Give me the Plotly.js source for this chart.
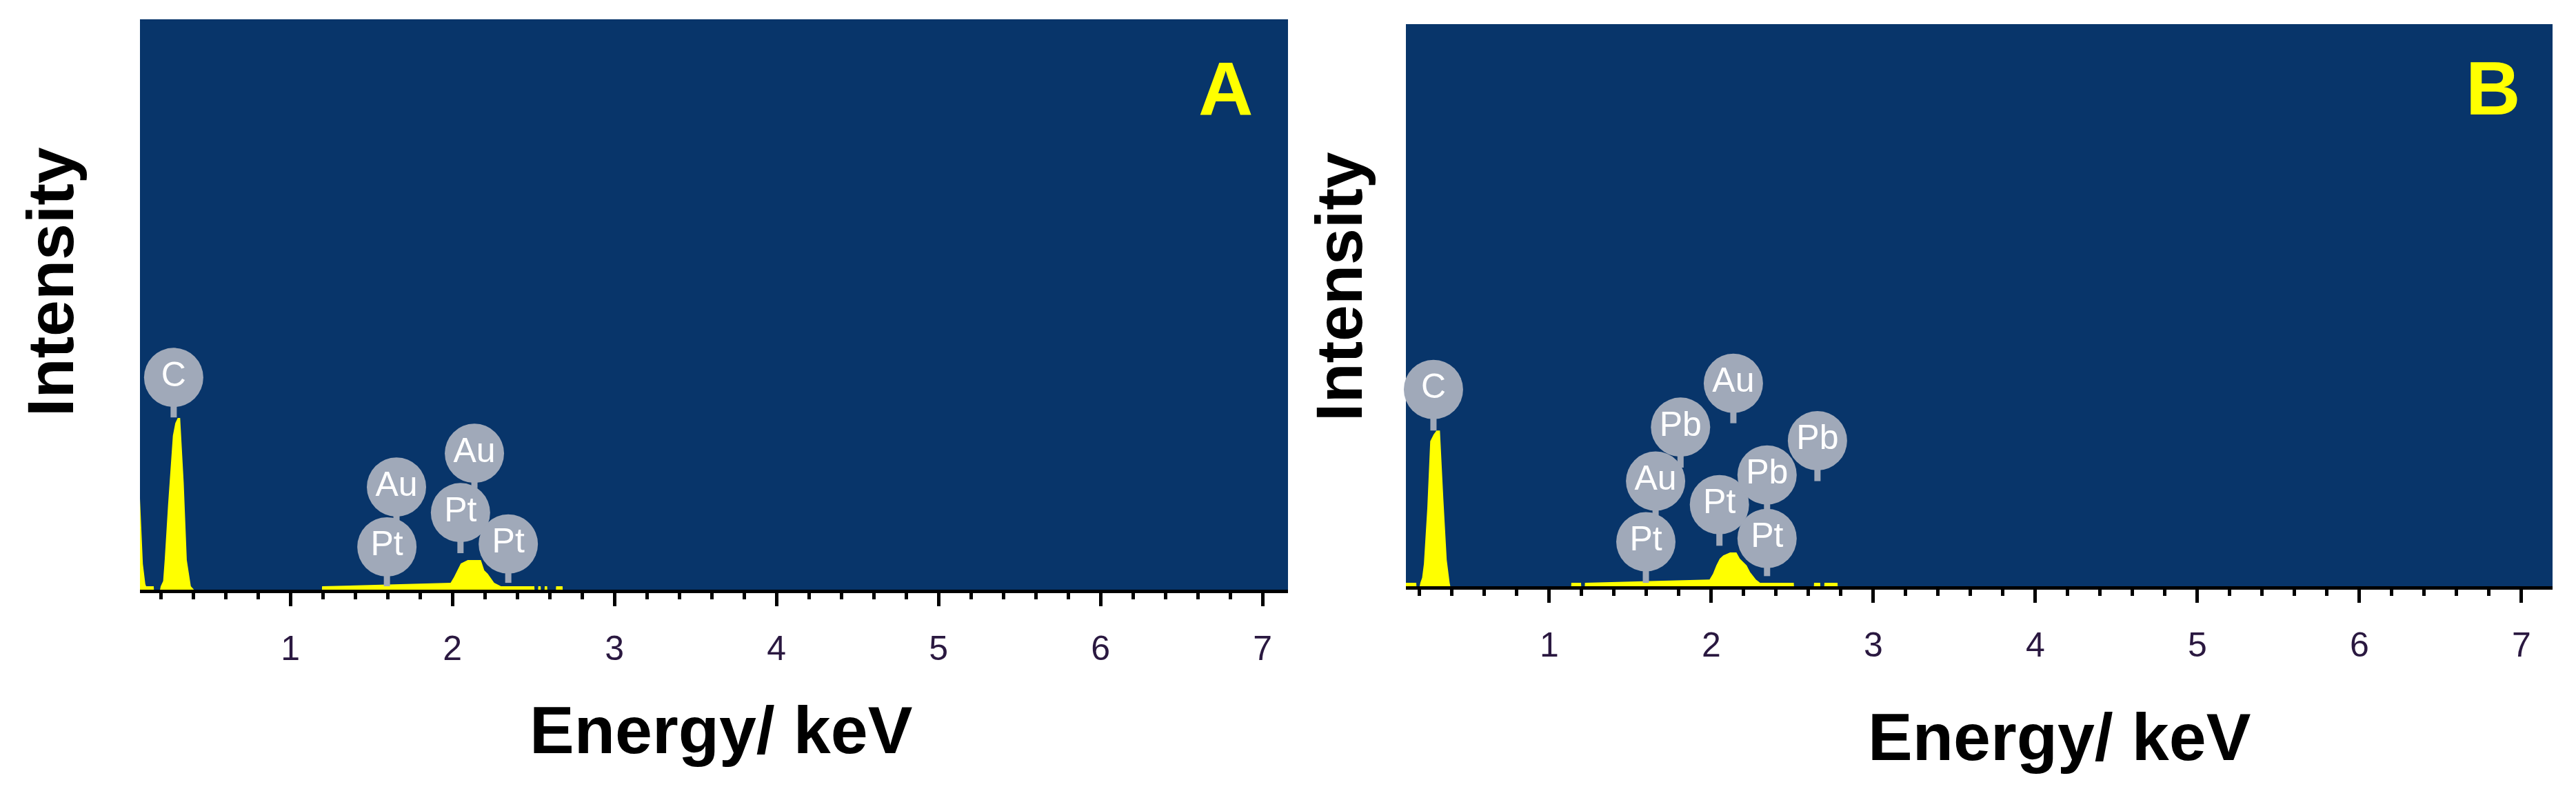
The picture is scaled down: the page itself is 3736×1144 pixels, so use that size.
<!DOCTYPE html>
<html><head><meta charset="utf-8">
<script src="https://cdn.plot.ly/plotly-3.0.1.min.js"></script>
<style>html,body{margin:0;padding:0;background:#fff}#chart{width:3736px;height:1144px}</style>
</head><body><div id="chart"></div>
<script>
// ---------- Panel A spectrum (energy in keV, intensity in % of full scale) ----------
const energyA = [0.072,0.09,0.105,0.11,0.157,0.158,0.196,0.2,0.215,0.225,0.245,0.275,0.29,0.305,0.32,0.342,0.361,0.386,0.405,
  1.195,1.196,1.989,2.01,2.031,2.052,2.095,2.176,2.197,2.218,2.258,2.30,2.506,2.507,
  2.529,2.53,2.545,2.546,2.569,2.57,2.585,2.586,2.639,2.64,2.68,2.681];
const countsA = [16,4.5,1,0.6,0.6,0,0,0.6,1.5,5.4,14.7,27,29.2,30.1,30.1,18.7,5.2,0.6,0,
  0,0.6,1.2,2.2,3.4,4.6,5.2,5.2,3.4,2.8,1.2,0.6,0.6,0,
  0,0.6,0.6,0,0,0.6,0.6,0,0,0.6,0.6,0];

// ---------- Panel B spectrum ----------
const energyB = [0.115,0.179,0.18,0.2,0.204,0.215,0.226,0.247,0.265,0.286,0.304,0.325,0.346,0.367,0.385,0.389,
  1.135,1.136,1.196,1.197,1.219,1.22,1.989,2.01,2.031,2.052,2.074,2.116,2.155,2.176,2.218,2.24,2.275,2.301,2.509,2.51,
  2.633,2.634,2.672,2.673,2.697,2.698,2.779,2.78];
const countsB = [0.6,0.6,0,0,0.6,1.5,4.0,13.9,25.8,27.0,27.7,27.7,15.6,4.7,0.6,0,
  0,0.6,0.6,0,0,0.6,1.2,2.2,3.7,4.9,5.5,6.0,6.0,4.9,3.7,2.5,1.2,0.6,0.6,0,
  0,0.6,0.6,0,0,0.6,0.6,0];

// ---------- Peak identification labels ----------
const labelTextA   = ['C','Pt','Au','Pt','Au','Pt'];
const labelEnergyA = [0.28,1.596,1.655,2.05,2.136,2.345];
const labelHeightA = [37.2,7.5,18.0,13.5,23.9,8.0];
const stemEndA     = [30.2,0.6,11.9,6.4,17.8,1.2];

const labelTextB   = ['C','Pt','Au','Pb','Au','Pt','Pb','Pt','Pb'];
const labelEnergyB = [0.285,1.596,1.656,1.81,2.136,2.05,2.344,2.344,2.655];
const labelHeightB = [35.0,7.9,18.7,28.3,36.1,14.5,19.8,8.5,25.9];
const stemEndB     = [27.7,0.6,12.6,21.1,29.0,7.2,13.3,1.8,18.7];

// ---------- Axis ticks ----------
const tickVals  = [1,2,3,4,5,6,7];
const tickTexts = ['1','2','3','4','5','6','7'];
const panelLetters = ['A','B'];
const xTitle = 'Energy/ keV';
const yTitle = 'Intensity';

const W = 3736, H = 1144;
const FONT = 'Liberation Sans, Arial, sans-serif';
const YELLOW = '#FFFF00';
const BUBBLE = '#A0A9B9';

function stems(xs, y0, y1){
  const x=[], y=[];
  xs.forEach((v,i)=>{x.push(v,v,null); y.push(y0[i],y1[i],null);});
  return {x,y};
}
function panelTraces(en, ct, lt, le, lh, se, xa, ya){
  const s = stems(le, lh, se);
  return [
    {type:'scatter', x:en, y:ct, mode:'lines', fill:'tozeroy', fillcolor:YELLOW,
     line:{color:YELLOW, width:0}, xaxis:xa, yaxis:ya, hoverinfo:'skip', showlegend:false},
    {type:'scatter', x:s.x, y:s.y, mode:'lines', line:{color:BUBBLE, width:9},
     xaxis:xa, yaxis:ya, hoverinfo:'skip', showlegend:false, connectgaps:false},
    {type:'scatter', x:le, y:lh, mode:'markers+text', text:lt, textposition:'middle center',
     textfont:{family:FONT, size:50, color:'#FFFFFF'},
     marker:{symbol:'circle', size:86, color:BUBBLE, line:{width:0}},
     xaxis:xa, yaxis:ya, hoverinfo:'skip', showlegend:false, cliponaxis:false}
  ];
}

const data = [
  ...panelTraces(energyA, countsA, labelTextA, labelEnergyA, labelHeightA, stemEndA, 'x', 'y'),
  ...panelTraces(energyB, countsB, labelTextB, labelEnergyB, labelHeightB, stemEndB, 'x2', 'y2')
];

function xAxis(domain, range, anchor){
  return {domain, range, anchor, showgrid:false, zeroline:false,
    showline:true, linecolor:'#000', linewidth:5, mirror:false,
    tickmode:'array', tickvals:tickVals, ticktext:tickTexts,
    ticks:'outside', ticklen:19, tickwidth:5, tickcolor:'#000',
    ticklabelstandoff:18,
    tickfont:{family:FONT, size:50, color:'#2a1840'},
    minor:{tickmode:'linear', tick0:0, dtick:0.2, ticks:'outside', ticklen:9, tickwidth:5, tickcolor:'#000', showgrid:false},
    fixedrange:true};
}
function yAxis(domain, anchor){
  return {domain, range:[0,100], anchor, showgrid:false, zeroline:false, showline:false,
    showticklabels:false, ticks:'', fixedrange:true};
}

const px = v => v/W, py = v => 1 - v/H;
const titleFont = {family:FONT, size:97, color:'#000', weight:'bold'};
const letterFont = {family:FONT, size:110, color:YELLOW, weight:'bold'};

const layout = {
  width:W, height:H, margin:{l:0,r:0,t:0,b:0},
  paper_bgcolor:'#FFFFFF', plot_bgcolor:'#08356A',
  showlegend:false,
  xaxis: xAxis([px(203), px(1868)], [0.072, 7.157], 'y'),
  yaxis: yAxis([py(855), py(28)], 'x'),
  xaxis2: xAxis([px(2039), px(3702)], [0.115, 7.192], 'y2'),
  yaxis2: yAxis([py(850), py(35)], 'x2'),
  annotations: [
    {text:yTitle, textangle:-90, xref:'paper', yref:'paper', x:px(73), y:py(409), xanchor:'center', yanchor:'middle', showarrow:false, font:Object.assign({}, titleFont, {size:95})},
    {text:yTitle, textangle:-90, xref:'paper', yref:'paper', x:px(73+1869), y:py(416), xanchor:'center', yanchor:'middle', showarrow:false, font:Object.assign({}, titleFont, {size:95})},
    {text:xTitle, xref:'paper', yref:'paper', x:px(1046), y:py(1058), xanchor:'center', yanchor:'middle', showarrow:false, font:titleFont},
    {text:xTitle, xref:'paper', yref:'paper', x:px(2987), y:py(1068), xanchor:'center', yanchor:'middle', showarrow:false, font:titleFont},
    {text:panelLetters[0], xref:'paper', yref:'paper', x:px(1777), y:py(128), xanchor:'center', yanchor:'middle', showarrow:false, font:letterFont},
    {text:panelLetters[1], xref:'paper', yref:'paper', x:px(3615), y:py(128), xanchor:'center', yanchor:'middle', showarrow:false, font:letterFont}
  ]
};

Plotly.newPlot('chart', data, layout, {staticPlot:true, displayModeBar:false});
</script>
</body></html>
